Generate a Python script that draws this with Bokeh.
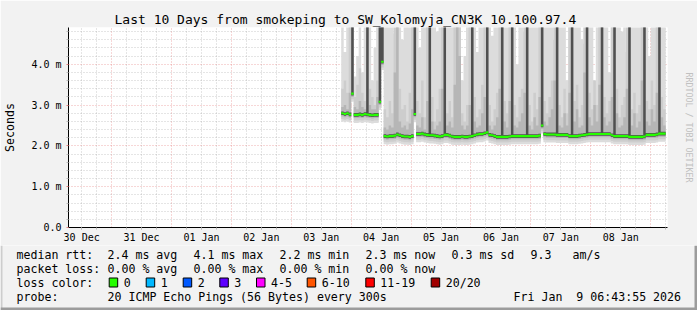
from bokeh.plotting import figure
from bokeh.layouts import column
from bokeh.models import Range1d, FixedTicker, LinearAxis
from bokeh.core.properties import value
from bokeh.embed import file_html
from bokeh.resources import INLINE

# ---------------- data ----------------
T_START = 6 + 43 / 60 + 55 / 3600          # 30 Dec 06:43:55 (hours since 30 Dec 00:00)
T_END = T_START + 240                      # 09 Jan 06:43:55
FIRST_HOUR = 116                           # first hourly step with data (03 Jan 20:00)
Y_MAX = 4.9                                # ms

median = [
    2.80, 2.78, 2.80, 2.77, 3.28, 2.76, 2.76, 2.77, 2.76, 2.78,
    2.77, 2.76, 2.75, 2.76, 2.76, 3.08, 4.06, 2.24, 2.23, 2.24,
    2.24, 2.25, 2.28, 2.26, 2.24, 2.23, 2.23, 2.22, 2.24, 2.78,
    2.29, 2.29, 2.30, 2.28, 2.27, 2.26, 2.26, 2.25, 2.24, 2.23,
    2.24, 2.27, 2.27, 2.25, 2.23, 2.22, 2.22, 2.22, 2.23, 2.22,
    2.22, 2.23, 2.24, 2.26, 2.28, 2.29, 2.29, 2.31, 2.33, 2.27,
    2.26, 2.24, 2.22, 2.22, 2.22, 2.22, 2.22, 2.23, 2.24, 2.24,
    2.24, 2.24, 2.24, 2.24, 2.24, 2.24, 2.24, 2.24, 2.24, 2.25,
    2.50, 2.29, 2.28, 2.28, 2.28, 2.28, 2.27, 2.27, 2.27, 2.27,
    2.27, 2.24, 2.24, 2.24, 2.24, 2.25, 2.26, 2.27, 2.28, 2.29,
    2.29, 2.29, 2.29, 2.29, 2.29, 2.29, 2.29, 2.29, 2.26, 2.24,
    2.24, 2.24, 2.24, 2.24, 2.24, 2.22, 2.22, 2.22, 2.22, 2.22,
    2.22, 2.23, 2.27, 2.27, 2.27, 2.27, 2.28, 2.30, 2.30, 2.30,
]

smoke_top = [
    5.0, 4.3, 5.0, 5.0, 5.0, 3.7, 4.2, 5.0, 3.8, 5.0,
    5.0, 5.0, 3.6, 4.4, 5.0, 5.0, 5.0, 5.0, 5.0, 5.0,
    5.0, 4.75, 5.0, 5.0, 4.6, 5.0, 5.0, 5.0, 5.0, 5.0,
    5.0, 4.4, 5.0, 5.0, 5.0, 5.0, 5.0, 5.0, 4.8, 5.0,
    5.0, 5.0, 5.0, 5.0, 5.0, 5.0, 5.0, 5.0, 3.6, 4.2,
    5.0, 5.0, 5.0, 5.0, 4.3, 5.0, 5.0, 5.0, 5.0, 5.0,
    4.7, 5.0, 5.0, 5.0, 5.0, 5.0, 5.0, 5.0, 5.0, 5.0,
    4.0, 5.0, 5.0, 4.8, 5.0, 5.0, 5.0, 5.0, 5.0, 5.0,
    5.0, 5.0, 5.0, 5.0, 5.0, 4.6, 5.0, 5.0, 5.0, 5.0,
    3.6, 5.0, 5.0, 5.0, 5.0, 5.0, 4.6, 4.5, 5.0, 5.0,
    5.0, 3.6, 5.0, 5.0, 5.0, 5.0, 5.0, 3.8, 5.0, 5.0,
    5.0, 5.0, 4.8, 5.0, 4.3, 5.0, 5.0, 5.0, 5.0, 5.0,
    5.0, 5.0, 5.0, 4.2, 5.0, 5.0, 5.0, 5.0, 5.0, 5.0,
]

smoke_q2 = [
    3.4, 3.6, 3.3, 5.0, 5.0, 3.2, 3.5, 3.9, 3.3, 3.1,
    5.0, 3.4, 3.2, 3.0, 3.6, 5.0, 5.0, 2.9, 2.7, 3.1,
    2.8, 5.0, 5.0, 3.4, 2.9, 3.0, 2.6, 3.3, 5.0, 5.0,
    3.1, 2.8, 3.6, 2.7, 5.0, 5.0, 3.2, 2.6, 2.9, 3.4,
    5.0, 5.0, 2.8, 3.1, 2.7, 5.0, 5.0, 5.0, 2.8, 2.6,
    3.0, 5.0, 5.0, 3.2, 2.7, 2.9, 3.5, 5.0, 5.0, 3.0,
    2.6, 2.9, 3.3, 5.0, 5.0, 3.1, 2.8, 5.0, 5.0, 3.0,
    2.7, 3.2, 3.4, 5.0, 5.0, 3.0, 2.6, 3.3, 2.9, 5.0,
    5.0, 3.1, 2.8, 3.2, 3.6, 5.0, 5.0, 3.0, 2.7, 3.4,
    2.8, 5.0, 5.0, 3.1, 3.5, 2.7, 3.0, 5.0, 5.0, 3.3,
    2.9, 3.6, 3.0, 5.0, 5.0, 3.2, 2.8, 3.1, 5.0, 5.0,
    3.4, 2.7, 3.0, 3.2, 5.0, 5.0, 2.9, 3.3, 2.8, 3.0,
    5.0, 5.0, 3.1, 2.9, 3.6, 3.0, 5.0, 5.0, 3.2, 2.9,
]

smoke_q3 = [
    2.95, 3.0, 2.9, 3.3, 5.0, 2.95, 2.9, 3.1, 2.95, 2.9,
    5.0, 3.0, 2.9, 2.9, 3.2, 5.0, 5.0, 2.45, 2.4, 2.5,
    2.45, 3.8, 5.0, 2.6, 2.45, 2.5, 2.4, 2.55, 2.9, 5.0,
    2.5, 2.45, 2.7, 2.4, 3.1, 5.0, 2.6, 2.4, 2.5, 2.6,
    3.4, 5.0, 2.5, 2.6, 2.45, 3.5, 5.0, 4.2, 2.5, 2.4,
    2.5, 3.0, 5.0, 2.6, 2.45, 2.5, 2.8, 3.2, 5.0, 2.5,
    2.4, 2.5, 2.7, 3.4, 5.0, 2.6, 2.45, 3.1, 5.0, 2.5,
    2.45, 2.6, 2.8, 3.3, 5.0, 2.5, 2.4, 2.7, 2.5, 3.2,
    5.0, 2.6, 2.5, 2.7, 2.9, 3.6, 5.0, 2.5, 2.45, 2.8,
    2.5, 3.3, 5.0, 2.6, 2.9, 2.45, 2.5, 3.8, 5.0, 2.7,
    2.5, 3.0, 2.6, 3.5, 5.0, 2.7, 2.5, 2.6, 3.2, 5.0,
    2.8, 2.45, 2.5, 2.7, 3.4, 5.0, 2.5, 2.8, 2.45, 2.6,
    3.6, 5.0, 2.6, 2.5, 2.9, 2.6, 3.3, 5.0, 2.7, 2.5,
]

burst_steps = [4, 10, 15, 16, 29, 35, 41, 52, 58, 64, 68, 74, 80, 86, 92, 98, 104, 109, 115, 121, 127]
burst_top = 5.0

below_depth = [0.20, 0.14, 0.08, 0.045]
core_half = 0.045
median_half = 0.026

day_labels = ["30 Dec", "31 Dec", "01 Jan", "02 Jan", "03 Jan",
              "04 Jan", "05 Jan", "06 Jan", "07 Jan", "08 Jan"]
y_tick_labels = ["0.0", "1.0 m", "2.0 m", "3.0 m", "4.0 m"]

legend_rows = [
    ["median rtt:", "2.4 ms avg", "4.1 ms max", "2.2 ms min", "2.3 ms now", "0.3 ms sd", "9.3", "am/s"],
    ["packet loss:", "0.00 % avg", "0.00 % max", "0.00 % min", "0.00 % now"],
]
loss_labels = ["0", "1", "2", "3", "4-5", "6-10", "11-19", "20/20"]
loss_colors = ["#26ff00", "#00b8ff", "#0059ff", "#5e00ff", "#ff00ff", "#ff5500", "#ff0000", "#a10000"]
probe_text = "20 ICMP Echo Pings (56 Bytes) every 300s"
stamp_text = "Fri Jan \u00a09 06:43:55 2026"
title_text = "Last 10 Days from smokeping to SW_Kolomyja_CN3K 10.100.97.4"

MONO = "DejaVu Sans Mono"
BG = "#f2f2f2"

# ---------------- main graph ----------------
MAIN_H = 245
p = figure(width=697, height=MAIN_H, x_range=Range1d(T_START, T_END), y_range=Range1d(0, Y_MAX),
           output_backend="svg", toolbar_location=None,
           min_border_left=67, min_border_right=30, min_border_top=27, min_border_bottom=17)
p.background_fill_color = "white"
p.border_fill_color = BG
p.outline_line_color = None

p.title.text = title_text
p.title.align = "left"
p.title.offset = 46
p.title.standoff = 2
p.title.text_font = MONO
p.title.text_font_size = "13px"
p.title.text_font_style = "normal"
p.title.text_color = "#000000"

n = len(median)
xs = [FIRST_HOUR + k for k in range(n)] + [FIRST_HOUR + n]


def ext(vals):
    return list(vals) + [vals[-1]]


core_top = [burst_top if k in burst_steps else median[k] + core_half for k in range(n)]

layers = [
    (smoke_top, "#dcdcdc"),
    (smoke_q2, "#cdcdcd"),
    (smoke_q3, "#b6b6b6"),
    (core_top, "#505050"),
]
for (tops, col), depth in zip(layers, below_depth):
    lows = [m - depth for m in median]
    p.varea_step(x=xs, y1=ext(lows), y2=ext(tops), step_mode="after", fill_color=col)

p.varea_step(x=xs, y1=ext([m - median_half for m in median]),
             y2=ext([m + median_half for m in median]),
             step_mode="after", fill_color="#26ff00")

midnights = [24 * d for d in range(1, 11)]
noons = [24 * d + 12 for d in range(10)]
six_h = [6 * k for k in range(1, 42) if (6 * k) % 24 != 0]
y_minor = [i / 5 for i in range(1, 25) if i % 5 != 0]

p.xaxis.ticker = FixedTicker(ticks=noons, minor_ticks=six_h)
p.xaxis.major_label_overrides = {t: lab for t, lab in zip(noons, day_labels)}
p.yaxis.ticker = FixedTicker(ticks=[0, 1, 2, 3, 4], minor_ticks=y_minor)
p.yaxis.major_label_overrides = {i: lab for i, lab in enumerate(y_tick_labels)}

for ax in (p.xaxis, p.yaxis):
    ax.axis_line_color = "black"
    ax.major_label_text_font = MONO
    ax.major_label_text_font_size = "10px"
    ax.major_label_text_color = "#000000"
    ax.major_tick_in = 0
    ax.minor_tick_in = 0
    ax.major_tick_out = 2
    ax.minor_tick_out = 2
    ax.minor_tick_line_color = "#bbbbbb"
p.xaxis.major_tick_line_color = "#bbbbbb"
p.yaxis.major_tick_line_color = "#e08080"
p.xaxis.major_label_standoff = 2
p.yaxis.major_label_standoff = 5
p.yaxis.axis_label = "Seconds"
p.yaxis.axis_label_text_font = MONO
p.yaxis.axis_label_text_font_size = "11.6px"
p.yaxis.axis_label_text_font_style = "normal"
p.yaxis.axis_label_text_color = "#000000"
p.yaxis.axis_label_text_line_height = 1.0
p.yaxis.axis_label_standoff = 11

wm = LinearAxis(ticker=FixedTicker(ticks=[]), axis_line_color=None,
                major_tick_line_color=None, minor_tick_line_color=None,
                axis_label="RRDTOOL / TOBI OETIKER", axis_label_text_font=MONO,
                axis_label_text_font_size="8.3px", axis_label_text_font_style="normal",
                axis_label_text_color="#c0c0c0", axis_label_standoff=16)
p.add_layout(wm, "right")

p.xgrid.ticker = FixedTicker(ticks=midnights, minor_ticks=six_h)
p.ygrid.ticker = FixedTicker(ticks=[1, 2, 3, 4], minor_ticks=y_minor)
for g in (p.xgrid, p.ygrid):
    g.grid_line_color = "#e06060"
    g.grid_line_alpha = 0.5
    g.grid_line_dash = "1 2"
    g.minor_grid_line_color = "#999999"
    g.minor_grid_line_alpha = 0.5
    g.minor_grid_line_dash = "1 2"

# ---------------- legend strip (pixel layout below the graph) ----------------
LEG_H = 310 - MAIN_H
can_unalign = "frame_align" in p.properties()
leg_x_range = Range1d(0, 697) if can_unalign else Range1d(67, 667)
q = figure(width=697, height=LEG_H, x_range=leg_x_range, y_range=Range1d(LEG_H, 0),
           output_backend="svg", toolbar_location=None,
           min_border_left=0, min_border_right=0, min_border_top=0, min_border_bottom=0,
           x_axis_location=None, y_axis_location=None)
if can_unalign:
    p.frame_align = False
    q.frame_align = False
q.background_fill_color = BG
q.border_fill_color = BG
q.outline_line_color = None
q.xgrid.visible = False
q.ygrid.visible = False

row_y = [254 - MAIN_H, 268 - MAIN_H, 282 - MAIN_H, 296 - MAIN_H]
col_x = [16, 107, 193, 279, 365, 451, 530, 572]
tx, ty, tt = [], [], []
for r, items in enumerate(legend_rows):
    for cx, txt in zip(col_x, items):
        tx.append(cx)
        ty.append(row_y[r])
        tt.append(txt)
tx.append(16); ty.append(row_y[2]); tt.append("loss color:")
box_x = [108.7, 145.7, 182.7, 219.3, 256.0, 306.7, 365.3, 430.7]
for bx, lab in zip(box_x, loss_labels):
    tx.append(bx + 14.5); ty.append(row_y[2]); tt.append(lab)
tx += [16, 107, 513]
ty += [row_y[3]] * 3
tt += ["probe:", probe_text, stamp_text]

q.text(x=tx, y=ty, text=tt, text_font=value(MONO), text_font_size="11.6px",
       text_baseline="middle", text_align="left", text_color="#000000")
q.quad(left=box_x, right=[b + 8.5 for b in box_x], top=[row_y[2] - 4.5] * len(box_x),
       bottom=[row_y[2] + 4.5] * len(box_x), fill_color=loss_colors, line_color="black",
       line_width=1)
# image frame (left / right / bottom edges)
q.quad(left=[0, 694, 0], right=[2, 697, 697], top=[0, 0, LEG_H - 3],
       bottom=[LEG_H, LEG_H, LEG_H], fill_color=["#cdcdcd", "#9c9c9c", "#9c9c9c"],
       line_color=None)

layout = column(p, q, spacing=0)
open("out.html", "w").write(file_html(layout, INLINE))
